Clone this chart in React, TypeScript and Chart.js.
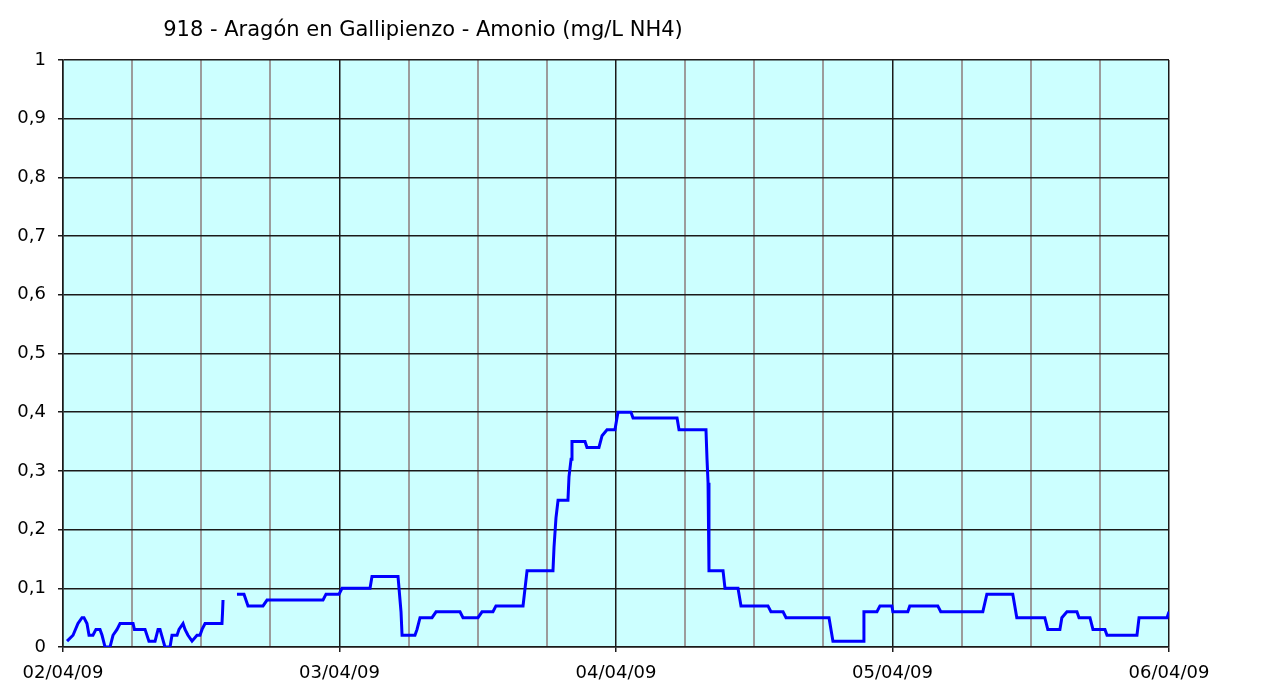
import React, { useEffect, useRef } from "react";
import { Chart, registerables } from "chart.js";

Chart.register(...registerables);

const TITLE = "918 - Aragón en Gallipienzo - Amonio (mg/L NH4)";
const DATE_LABELS = ["02/04/09", "03/04/09", "04/04/09", "05/04/09", "06/04/09"];

// hours since 02/04/09 00:00
const HOURS = [
  0.35, 0.87, 1.3, 1.65, 1.82, 2.08, 2.26, 2.6, 2.86, 3.21, 3.39, 3.65, 4.08, 4.34, 4.69, 4.95,
  6.08, 6.2, 7.12, 7.46, 7.99, 8.25, 8.42, 8.85, 9.29, 9.46, 9.9, 10.07, 10.42, 10.59, 10.85,
  11.2, 11.63, 11.89, 12.07, 12.33, 13.8, 13.85, 13.89,
  14.5,
  15.1, 15.71, 16.06, 17.36, 17.71, 22.57, 22.83, 23.96, 24.22, 26.65, 26.82, 29.08, 29.34,
  29.43, 30.55, 30.73, 30.99, 32.03, 32.38, 34.46, 34.72, 36.02, 36.37, 37.32, 37.58, 39.93,
  40.28, 42.53, 42.62, 42.79, 42.97, 43.83, 43.92, 44.1, 44.18, 45.31, 45.48, 46.52, 46.79,
  47.22, 47.91, 48.17, 49.3, 49.48, 53.3, 53.47, 55.81, 55.9, 55.99, 56.07, 57.29, 57.46,
  58.59, 58.85, 61.19, 61.45, 62.5, 62.76, 66.49, 66.83, 69.44, 69.52, 70.65, 70.91, 71.95,
  72.03, 73.33, 73.5, 75.93, 76.19, 79.84, 80.19, 82.44, 82.79, 85.22, 85.48, 86.53, 86.7,
  87.14, 88.01, 88.19, 89.14, 89.4, 90.44, 90.62, 93.22, 93.4, 95.83, 96,
];

// Amonio (mg/L NH4)
const VALUES: (number | null)[] = [
  0.01, 0.02, 0.04, 0.05, 0.05, 0.04, 0.02, 0.02, 0.03, 0.03, 0.02, 0, 0, 0.02, 0.03, 0.04,
  0.04, 0.03, 0.03, 0.01, 0.01, 0.03, 0.03, 0, 0, 0.02, 0.02, 0.03, 0.04, 0.03, 0.02,
  0.01, 0.02, 0.02, 0.03, 0.04, 0.04, 0.06, 0.08,
  null,
  0.09, 0.09, 0.07, 0.07, 0.08, 0.08, 0.09, 0.09, 0.1, 0.1, 0.12, 0.12, 0.06,
  0.02, 0.02, 0.03, 0.05, 0.05, 0.06, 0.06, 0.05, 0.05, 0.06, 0.06, 0.07, 0.07,
  0.13, 0.13, 0.17, 0.22, 0.25, 0.25, 0.29, 0.32, 0.35, 0.35, 0.34, 0.34, 0.36,
  0.37, 0.37, 0.4, 0.4, 0.39, 0.39, 0.37, 0.37, 0.32, 0.28, 0.13, 0.13, 0.1,
  0.1, 0.07, 0.07, 0.06, 0.06, 0.05, 0.05, 0.01, 0.01, 0.06, 0.06, 0.07, 0.07,
  0.06, 0.06, 0.07, 0.07, 0.06, 0.06, 0.09, 0.09, 0.05, 0.05, 0.03, 0.03, 0.05,
  0.06, 0.06, 0.05, 0.05, 0.03, 0.03, 0.02, 0.02, 0.05, 0.05, 0.06,
];

const FONT = "'DejaVu Sans', Verdana, sans-serif";

export default function App() {
  const ref = useRef<HTMLCanvasElement | null>(null);

  useEffect(() => {
    if (!ref.current) return;
    const points = HOURS.map((h, i) => ({ x: h, y: VALUES[i] }));

    const bgPlugin = {
      id: "plotBg",
      beforeDraw(chart: any) {
        const { ctx, chartArea } = chart;
        ctx.save();
        ctx.fillStyle = "#ffffff";
        ctx.fillRect(0, 0, chart.width, chart.height);
        ctx.fillStyle = "#CCFFFF";
        ctx.fillRect(chartArea.left, chartArea.top, chartArea.right - chartArea.left, chartArea.bottom - chartArea.top);
        ctx.restore();
      },
      afterDraw(chart: any) {
        const { ctx } = chart;
        ctx.save();
        ctx.fillStyle = "#000";
        ctx.font = `21px ${FONT}`;
        ctx.textAlign = "center";
        ctx.textBaseline = "middle";
        ctx.fillText(TITLE, 423, 31);
        ctx.restore();
      },
    };

    const chart = new Chart(ref.current, {
      type: "line",
      data: {
        datasets: [
          {
            data: points as any,
            borderColor: "#0000FF",
            borderWidth: 3,
            pointRadius: 0,
            tension: 0,
            spanGaps: false,
          },
        ],
      },
      options: {
        animation: false,
        responsive: false,
        maintainAspectRatio: false,
        layout: { padding: { top: 60, right: 98, left: 0, bottom: 0 } },
        plugins: { legend: { display: false }, tooltip: { enabled: false }, title: { display: false } },
        scales: {
          x: {
            type: "linear",
            min: 0,
            max: 96,
            afterFit(scale: any) {
              scale.height = 41;
            },
            ticks: {
              stepSize: 6,
              autoSkip: false,
              maxRotation: 0,
              padding: 11,
              color: "#000",
              font: { family: FONT, size: 18 },
              callback: (v: any) => (Number(v) % 24 === 0 ? DATE_LABELS[Number(v) / 24] : ""),
            },
            grid: {
              color: (c: any) => (c.tick && c.tick.value % 24 === 0 ? "#1a1a1a" : "#9c9c9c"),
              tickColor: (c: any) => (c.tick && c.tick.value % 24 === 0 ? "#1a1a1a" : "rgba(0,0,0,0)"),
              lineWidth: (c: any) => (c.tick && c.tick.value % 24 === 0 ? 1.5 : 2),
              tickLength: 5,
            },
            border: { color: "#1a1a1a", width: 1.5 },
          },
          y: {
            min: 0,
            max: 1,
            afterFit(scale: any) {
              scale.width = 63;
            },
            ticks: {
              stepSize: 0.1,
              padding: 12,
              color: "#000",
              font: { family: FONT, size: 18 },
              callback: (v: any) => String(Math.round(Number(v) * 10) / 10).replace(".", ","),
            },
            grid: { color: "#1a1a1a", tickColor: "#1a1a1a", tickLength: 5, lineWidth: 1.5 },
            border: { color: "#1a1a1a", width: 1.5 },
          },
        },
      },
      plugins: [bgPlugin],
    });
    return () => chart.destroy();
  }, []);

  return (
    <div style={{ position: "fixed", left: 0, top: 0, width: 1267, height: 688, background: "#fff" }}>
      <canvas ref={ref} width={1267} height={688} style={{ width: 1267, height: 688, display: "block" }} />
    </div>
  );
}
